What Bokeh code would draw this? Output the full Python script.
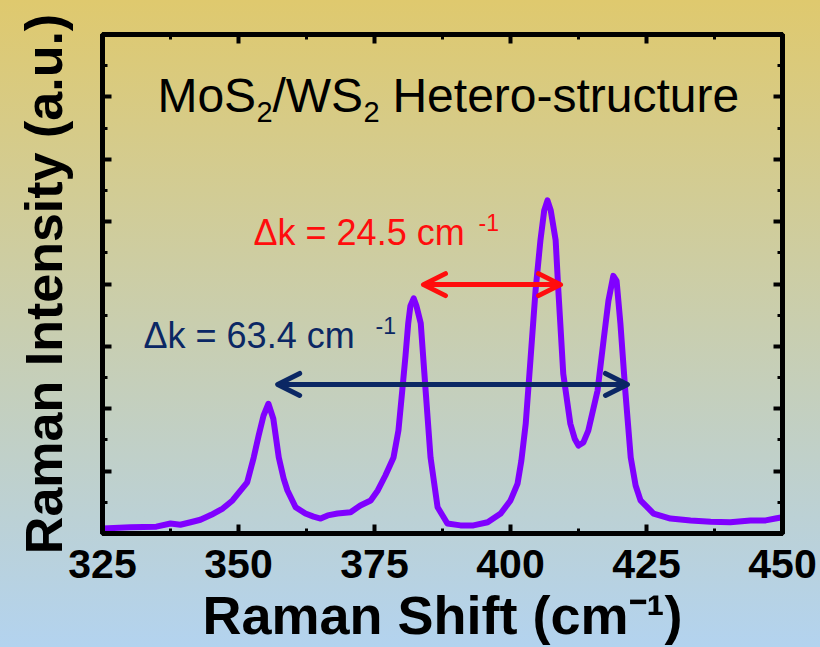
from bokeh.plotting import figure
from bokeh.models import FixedTicker, LinearAxis, Arrow, OpenHead, ColumnDataSource
from bokeh.core.properties import value
from bokeh.embed import file_html
from bokeh.resources import INLINE

# ---- data ----
shift = [325.0, 330.1, 334.9, 337.5, 339.3, 341.2, 343.0, 345.0, 347.1, 348.9,
         350.4, 351.6, 352.8, 353.7, 354.6, 355.5, 356.4, 357.4, 358.3, 359.0,
         360.5, 362.3, 363.8, 365.1, 366.4, 368.2, 370.6, 372.4, 374.3, 375.6,
         377.0, 378.5, 379.4, 380.1, 380.7, 381.2, 381.6, 382.2, 382.7, 383.5,
         384.4, 385.3, 386.6, 388.4, 390.8, 393.2, 395.8, 398.2, 400.0, 401.3,
         402.0, 402.8, 403.7, 404.6, 405.5, 406.2, 406.8, 407.4, 408.3, 408.8,
         409.7, 411.0, 411.8, 412.5, 413.4, 414.3, 416.0, 417.1, 418.0, 418.9,
         419.5, 420.2, 421.1, 422.1, 423.0, 423.9, 426.3, 429.4, 433.1, 436.8,
         440.4, 444.1, 446.9, 448.7, 450.0]
intensity = [0.08, 0.10, 0.11, 0.16, 0.14, 0.18, 0.22, 0.30, 0.40, 0.53,
             0.69, 0.82, 1.22, 1.57, 1.89, 2.08, 1.84, 1.22, 0.88, 0.69,
             0.42, 0.32, 0.27, 0.24, 0.29, 0.32, 0.34, 0.45, 0.53, 0.69,
             0.93, 1.22, 1.65, 2.29, 2.85, 3.37, 3.65, 3.77, 3.65, 3.37,
             2.29, 1.22, 0.42, 0.16, 0.13, 0.13, 0.18, 0.32, 0.53, 0.80,
             1.17, 1.76, 2.82, 3.89, 4.70, 5.18, 5.34, 5.18, 4.70, 3.89,
             2.56, 1.76, 1.52, 1.41, 1.46, 1.65, 2.29, 3.09, 3.73, 4.13,
             4.05, 3.37, 2.29, 1.22, 0.77, 0.53, 0.32, 0.24, 0.21, 0.19,
             0.18, 0.21, 0.21, 0.24, 0.26]

x_ticks = [325, 350, 375, 400, 425, 450]
x_minor = [337.5, 362.5, 387.5, 412.5, 437.5]
y_ticks = [0, 1, 2, 3, 4, 5, 6, 7, 8]
y_minor = [0.5, 1.5, 2.5, 3.5, 4.5, 5.5, 6.5, 7.5]

x_title = "Raman Shift (cm\u207b\u00b9)"
y_title = "Raman Intensity (a.u.)"
title_parts = ["MoS", "2", "/WS", "2", "Hetero-structure"]
delta_small = "24.5"   # cm^-1
delta_large = "63.4"   # cm^-1
arrow_small = (384.0, 409.2, 3.99)
arrow_large = (357.2, 421.5, 2.39)

FONT = "Liberation Sans"
RED = "#ff0d0d"
NAVY = "#0b2764"
PURPLE = "#8000ff"

p = figure(width=820, height=647, x_range=(325, 450), y_range=(0, 8),
           output_backend="svg", toolbar_location=None,
           min_border_left=102, min_border_right=38,
           min_border_top=34, min_border_bottom=114)
p.background_fill_alpha = 0
p.border_fill_alpha = 0
p.styles = {"background": "linear-gradient(to bottom, #dfc96e 0%, #b3d3ef 100%)"}
p.outline_line_color = "black"
p.outline_line_width = 5
p.xgrid.visible = False
p.ygrid.visible = False


def style_axis(ax, ticks, minor, show_labels):
    ax.ticker = FixedTicker(ticks=ticks, minor_ticks=minor)
    ax.axis_line_color = "black"
    ax.axis_line_width = 5
    ax.major_tick_in = 9
    ax.major_tick_out = 0
    ax.minor_tick_in = 5
    ax.minor_tick_out = 0
    ax.major_tick_line_width = 4
    ax.minor_tick_line_width = 3
    ax.major_tick_line_color = "black"
    ax.minor_tick_line_color = "black"
    ax.major_label_text_font = FONT
    ax.major_label_text_font_style = "bold"
    ax.major_label_text_color = "black"
    if not show_labels:
        ax.major_label_text_font_size = "1px"
        ax.major_label_text_alpha = 0
        ax.major_label_standoff = 0


xa = p.xaxis[0]
style_axis(xa, x_ticks, x_minor, True)
xa.major_label_text_font_size = "41px"
xa.major_label_text_line_height = 0.7
xa.major_label_standoff = 16
xa.axis_label = x_title
xa.axis_label_text_font = FONT
xa.axis_label_text_font_style = "bold"
xa.axis_label_text_font_size = "54px"
xa.axis_label_text_line_height = 0.7
xa.axis_label_text_color = "black"
xa.axis_label_standoff = 4

ya = p.yaxis[0]
style_axis(ya, y_ticks, y_minor, False)
ya.axis_label = y_title
ya.axis_label_text_font = FONT
ya.axis_label_text_font_style = "bold"
ya.axis_label_text_font_size = "52px"
ya.axis_label_text_color = "black"
ya.axis_label_standoff = 30

top_ax = LinearAxis()
style_axis(top_ax, x_ticks, x_minor, False)
p.add_layout(top_ax, "above")
right_ax = LinearAxis()
style_axis(right_ax, y_ticks, y_minor, False)
p.add_layout(right_ax, "right")

# spectrum
src = ColumnDataSource(dict(x=shift, y=intensity))
p.line("x", "y", source=src, line_width=6, line_color=PURPLE,
       line_join="round", line_cap="round")

# arrows
for (xs, xe, yy), col in [(arrow_small, RED), (arrow_large, NAVY)]:
    head_kw = dict(size=22, line_color=col, line_width=5,
                   line_cap="round", line_join="round")
    p.add_layout(Arrow(x_start=xs, y_start=yy, x_end=xe, y_end=yy,
                       line_color=col, line_width=5,
                       start=OpenHead(**head_kw), end=OpenHead(**head_kw)))

# title with subscripts (offsets in screen px)
title_x, title_y = 335.1, 6.75
t_offsets = [0, 99, 115, 206, 235]
t_yoff = [-17, 0, -17, 0, -17]
t_sizes = ["48px", "29px", "48px", "29px", "48px"]
for txt, xo, yo, fs in zip(title_parts, t_offsets, t_yoff, t_sizes):
    p.text(x=[title_x], y=[title_y], text=[txt], x_offset=xo, y_offset=yo,
           text_font=value(FONT), text_font_size=fs, text_color="black",
           text_align="left", text_baseline="alphabetic")

# delta k labels
for (lx, ly, dv, col, sup_off) in [(352.76, 4.62, delta_small, RED, 225),
                                  (332.54, 2.97, delta_large, NAVY, 232)]:
    p.text(x=[lx], y=[ly], text=["\u0394k = " + dv + " cm"], y_offset=-13,
           text_font=value(FONT), text_font_size="36px", text_color=col,
           text_align="left", text_baseline="alphabetic")
    p.text(x=[lx], y=[ly], text=["-1"], x_offset=sup_off, y_offset=-23,
           text_font=value(FONT), text_font_size="23px", text_color=col,
           text_align="left", text_baseline="alphabetic")

open("out.html", "w").write(file_html(p, INLINE))
